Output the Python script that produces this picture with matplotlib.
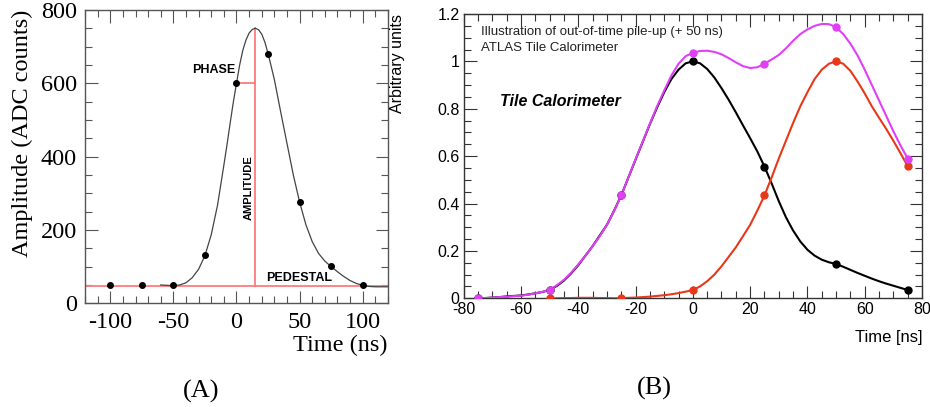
import numpy as np
import matplotlib
matplotlib.use("Agg")
import matplotlib.pyplot as plt
from matplotlib.ticker import MultipleLocator

# ---- panel A: digitised samples + fitted pulse ----
a_sample_t = [-100, -75, -50, -25, 0, 25, 50, 75, 100]
a_sample_adc = [51, 51, 49, 131, 600, 681, 276, 102, 49]
a_fit_t = [-60, -55, -50, -45, -40, -35, -30, -25, -20, -15, -10, -7.5, -5,
           -2.5, 0, 2.5, 5, 7.5, 10, 12.5, 15, 17.5, 20, 22.5, 25, 27.5, 30,
           35, 40, 45, 50, 55, 60, 65, 70, 75, 80, 85, 90, 95, 100, 105, 110,
           115, 120]
a_fit_adc = [50, 49, 48, 50, 56, 70, 93, 130, 187, 268, 377, 433, 492, 549,
             600, 650, 690, 718, 737, 747, 750, 746, 734, 712, 681, 646, 610,
             522, 436, 350, 276, 214, 168, 136, 115, 100, 86, 73, 62, 54, 49,
             46, 45, 45, 45]
pedestal = 48
phase_t, phase_adc = 15, 600

# ---- panel B: in-time pulse, +50 ns pulse and their sum ----
b_pts_t = [-75, -50, -25, 0, 25, 50, 75]
b_black_pts = [0.0, 0.035, 0.434, 1.0, 0.556, 0.145, 0.035]
b_red_pts_t = [-50, -25, 0, 25, 50, 75]
b_red_pts = [0.0, 0.0, 0.035, 0.434, 1.0, 0.558]
b_sum_pts = [0.0, 0.035, 0.434, 1.036, 0.99, 1.145, 0.59]

b_t = [-75, -72.5, -70, -67.5, -65, -62.5, -60, -57.5, -55, -52.5, -50, -47.5,
       -45, -42.5, -40, -37.5, -35, -32.5, -30, -27.5, -25, -22.5, -20, -17.5,
       -15, -12.5, -10, -7.5, -5, -2.5, 0, 2.5, 5, 7.5, 10, 12.5, 15, 17.5, 20,
       22.5, 25, 27.5, 30, 32.5, 35, 37.5, 40, 42.5, 45, 47.5, 50, 52.5, 55,
       57.5, 60, 62.5, 65, 67.5, 70, 72.5, 75]
b_black = [0.0, 0.001, 0.003, 0.005, 0.008, 0.01, 0.012, 0.016, 0.021, 0.027,
           0.035, 0.052, 0.075, 0.105, 0.14, 0.18, 0.22, 0.265, 0.31, 0.37,
           0.434, 0.51, 0.585, 0.66, 0.735, 0.805, 0.87, 0.925, 0.965, 0.992,
           1.0, 0.992, 0.968, 0.932, 0.887, 0.838, 0.785, 0.73, 0.676, 0.62,
           0.556, 0.485, 0.41, 0.342, 0.286, 0.24, 0.205, 0.18, 0.163, 0.152,
           0.145, 0.133, 0.12, 0.107, 0.095, 0.083, 0.072, 0.062, 0.053,
           0.044, 0.035]
b_red = [None] * 10 + [
         0.0, 0.0, 0.001, 0.001, 0.002, 0.002, 0.002, 0.001, 0.001, 0.0, 0.0,
         0.002, 0.003, 0.005, 0.007, 0.01, 0.013, 0.017, 0.022, 0.028, 0.035,
         0.05, 0.072, 0.1, 0.135, 0.175, 0.215, 0.262, 0.31, 0.37, 0.434,
         0.51, 0.59, 0.665, 0.74, 0.81, 0.87, 0.925, 0.965, 0.99, 1.0, 0.99,
         0.96, 0.915, 0.865, 0.81, 0.762, 0.715, 0.665, 0.612, 0.558]
b_sum = [0.0, 0.001, 0.003, 0.005, 0.007, 0.009, 0.011, 0.015, 0.021, 0.027,
         0.035, 0.055, 0.078, 0.108, 0.143, 0.18, 0.22, 0.262, 0.31, 0.368,
         0.434, 0.51, 0.587, 0.662, 0.737, 0.81, 0.877, 0.94, 0.99, 1.022,
         1.036, 1.044, 1.045, 1.04, 1.03, 1.014, 0.996, 0.98, 0.972, 0.975,
         0.99, 1.008, 1.027, 1.055, 1.087, 1.115, 1.135, 1.15, 1.158, 1.157,
         1.145, 1.115, 1.075, 1.025, 0.965, 0.9, 0.835, 0.77, 0.705, 0.645,
         0.59]

RED_A = "#ff7b7b"
MAG, RED_B = "#e040f5", "#e8381a"
SERIF = ["Liberation Serif", "DejaVu Serif"]
SANS = ["Liberation Sans", "DejaVu Sans"]

plt.rcParams.update({"axes.unicode_minus": False, "font.family": SANS})


def root_ticks(ax, col):
    ax.tick_params(which="both", direction="in", top=True, right=True,
                   color=col, width=0.8)
    ax.tick_params(which="major", length=9)
    ax.tick_params(which="minor", length=4.8)
    for s in ax.spines.values():
        s.set_color(col)
        s.set_linewidth(1.0)


fig = plt.figure(figsize=(9.3, 4.07), dpi=100)

# ------------------------------- panel A -----------------------------------
axA = fig.add_axes([0.0914, 0.2548, 0.3258, 0.7207])
axA.axhline(pedestal, color=RED_A, lw=1.3, zorder=2)
axA.plot([phase_t, phase_t], [pedestal, 750], color=RED_A, lw=1.3, zorder=2)
axA.plot([0, phase_t], [phase_adc, phase_adc], color=RED_A, lw=1.3, zorder=2)
axA.plot(a_fit_t, a_fit_adc, color="#444444", lw=0.9, zorder=3)
axA.plot(a_sample_t, a_sample_adc, "o", color="black", ms=4, zorder=4)
axA.set_xlim(-120, 120)
axA.set_ylim(0, 800)
axA.xaxis.set_major_locator(MultipleLocator(50))
axA.xaxis.set_minor_locator(MultipleLocator(10))
axA.yaxis.set_major_locator(MultipleLocator(200))
axA.yaxis.set_minor_locator(MultipleLocator(50))
root_ticks(axA, "#555555")
axA.tick_params(which="major", labelsize=17.5, pad=6)
for lab in axA.get_xticklabels() + axA.get_yticklabels():
    lab.set_family(SERIF)
axA.set_xlabel("Time (ns)", family=SERIF, fontsize=17.5, loc="right")
axA.xaxis.set_label_coords(1.0, -0.108)
axA.set_ylabel("Amplitude (ADC counts)", family=SERIF, fontsize=17.5,
               loc="top")
axA.yaxis.set_label_coords(-0.172, 1.0)
axA.text(-1, 636, "PHASE", ha="right", va="center", fontsize=9,
         fontweight="bold")
axA.text(9.7, 316, "AMPLITUDE", ha="center", va="center", rotation=90,
         fontsize=8, fontweight="bold")
axA.text(49.6, 68, "PEDESTAL", ha="center", va="center", fontsize=9,
         fontweight="bold")

# ------------------------------- panel B -----------------------------------
axB = fig.add_axes([0.4986, 0.2671, 0.4928, 0.6985])
red_t = [t for t, v in zip(b_t, b_red) if v is not None]
red_v = [v for v in b_red if v is not None]
axB.plot(b_t, b_black, color="black", lw=1.5, zorder=3)
axB.plot(red_t, red_v, color=RED_B, lw=1.5, zorder=3)
axB.plot(b_t, b_sum, color=MAG, lw=1.5, zorder=4)
axB.plot(b_pts_t, b_black_pts, "o", color="black", ms=5, zorder=5)
axB.plot(b_red_pts_t, b_red_pts, "o", color=RED_B, ms=5, zorder=5)
axB.plot(b_pts_t, b_sum_pts, "o", color=MAG, ms=5, zorder=6)
axB.set_xlim(-80, 80)
axB.set_ylim(0, 1.2)
axB.xaxis.set_major_locator(MultipleLocator(20))
axB.xaxis.set_minor_locator(MultipleLocator(5))
axB.yaxis.set_major_locator(MultipleLocator(0.2))
axB.yaxis.set_minor_locator(MultipleLocator(0.05))
axB.yaxis.set_major_formatter(
    matplotlib.ticker.FuncFormatter(lambda v, p: f"{v:g}"))
root_ticks(axB, "#333333")
axB.tick_params(which="major", labelsize=11.5, pad=3)
axB.set_xlabel("Time [ns]", fontsize=12, loc="right")
axB.xaxis.set_label_coords(1.0, -0.113)
axB.set_ylabel("Arbitrary units", fontsize=11.5, loc="top")
axB.yaxis.set_label_coords(-0.128, 1.0)
axB.text(-74, 1.123, "Illustration of out-of-time pile-up (+ 50 ns)",
         ha="left", va="center", fontsize=9.5, color="#222222")
axB.text(-74, 1.056, "ATLAS Tile Calorimeter", ha="left", va="center",
         fontsize=9.5, color="#222222")
axB.text(-67.3, 0.829, "Tile Calorimeter", ha="left", va="center",
         fontsize=11.5, fontweight="bold", fontstyle="italic")

fig.text(201 / 930, 1 - 391 / 407, "(A)", ha="center", va="center",
         family=SERIF, fontsize=19)
fig.text(654 / 930, 1 - 388 / 407, "(B)", ha="center", va="center",
         family=SERIF, fontsize=19)

fig.savefig("out.png", dpi=100)
